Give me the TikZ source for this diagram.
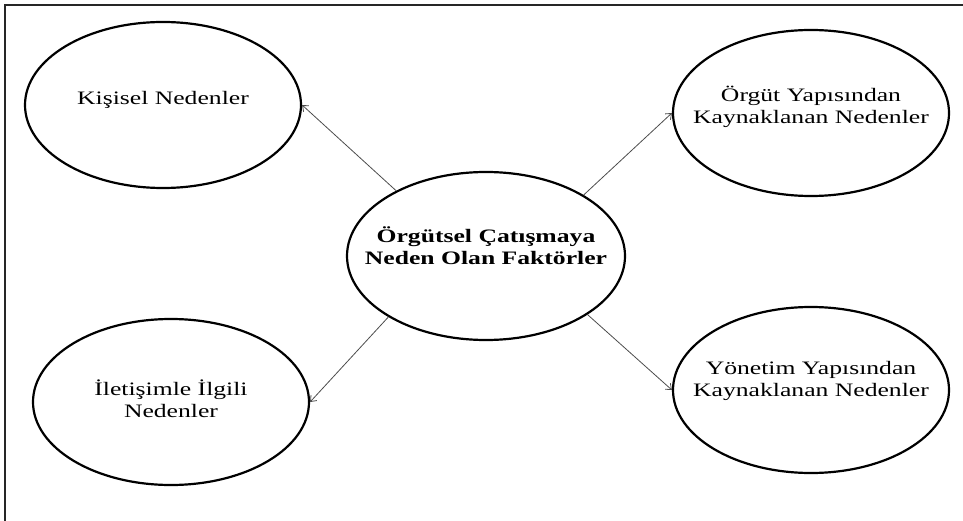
\documentclass[tikz,border=0pt]{standalone}
\usepackage{fontspec}
\setmainfont{Liberation Serif}[FakeStretch=1.35]
\usetikzlibrary{arrows.meta,shapes.geometric}
\begin{document}
\begin{tikzpicture}[x=1pt,y=-1pt,
  bubble/.style={draw=black, line width=2.2pt, ellipse, inner sep=0pt,
    minimum width=276pt, minimum height=166pt},
  hub/.style={bubble, minimum width=278pt, minimum height=168pt},
  lbl/.style={align=center, font=\fontsize{19pt}{21.5pt}\selectfont, inner sep=0pt},
  hublbl/.style={align=center, font=\fontsize{19pt}{22pt}\selectfont\bfseries, inner sep=0pt},
  arr/.style={draw=black!70, line width=0.8pt,
    -{Straight Barb[length=5pt,width=8pt,line width=0.8pt]}},
  frame/.style={draw=black!85, line width=2pt}
]
\useasboundingbox (0,0) rectangle (963,521);

% open frame: left and top edges only
\coordinate (fb) at (5.3,530);
\coordinate (fc) at (5.3,5.3);
\coordinate (fr) at (970,5.3);
\draw[frame] (fb) -- (fc) -- (fr);

% ellipses
\node[hub]    (c)  at (486,256) {};
\node[bubble] (k)  at (163,105) {};
\node[bubble] (o)  at (811,113) {};
\node[bubble] (il) at (171,402) {};
\node[bubble] (y)  at (811,390) {};

% texts
\node[hublbl] (ct)  at ([yshift=10pt]c.center)  {Örgütsel Çatışmaya\\Neden Olan Faktörler};
\node[lbl]    (kt)  at ([yshift=5pt]k.center)   {Kişisel Nedenler};
\node[lbl]    (ot)  at ([yshift=6pt]o.center)   {Örgüt Yapısından\\Kaynaklanan Nedenler};
\node[lbl]    (ilt) at ([yshift=3pt]il.center)  {İletişimle İlgili\\Nedenler};
\node[lbl]    (yt)  at ([yshift=9pt]y.center)   {Yönetim Yapısından\\Kaynaklanan Nedenler};

% arrows
\draw[arr] (c.144) -- (k.east);
\draw[arr] (c.32)  -- (o.west);
\draw[arr] (c.212) -- (il.east);
\draw[arr] (c.330) -- (y.west);
\end{tikzpicture}
\end{document}
